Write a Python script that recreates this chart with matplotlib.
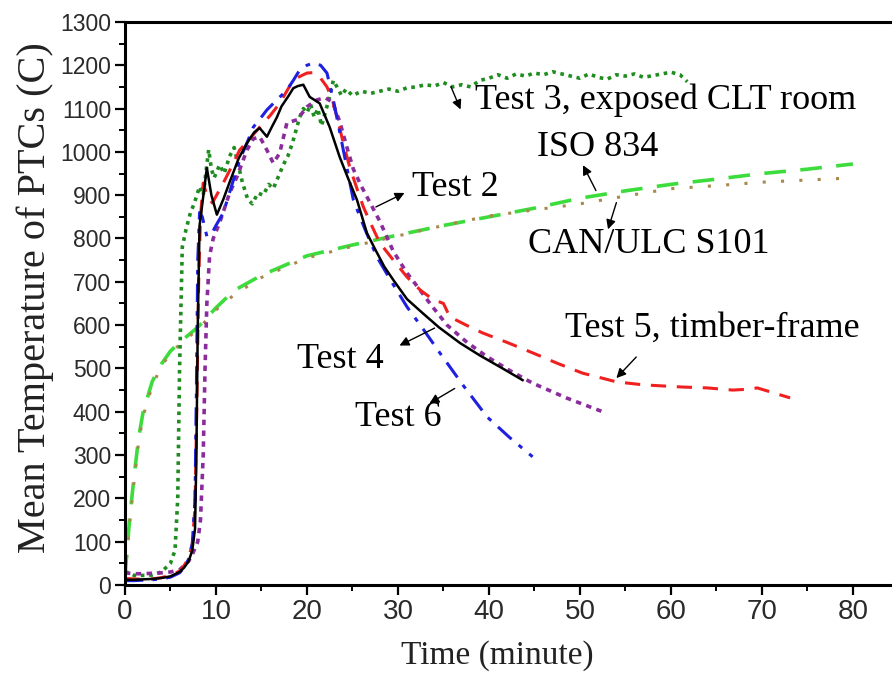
import matplotlib
matplotlib.use('Agg')
import matplotlib.pyplot as plt
from matplotlib.ticker import MultipleLocator

# ---- data (minutes, deg C) ----
t2_time = [0, 1, 2, 3, 4, 5, 6, 6.5, 7, 7.4, 7.7, 7.85, 8.0, 8.2, 8.5, 9.0, 9.5, 10.1, 10.8,
           11.5, 12.5, 13.4, 14.2, 14.8, 15.6, 16.2, 16.7, 17.2, 18.0, 18.5, 19.0, 19.6, 20.3,
           21.4, 22.5, 23.6, 24.5, 25.5, 26.6, 27.5, 28.5, 29.5, 31, 32.7, 34.5, 36.8, 39, 41.5, 43.7]
t2_temp = [12, 12, 13, 14, 16, 20, 30, 40, 55, 80, 130, 300, 600, 830, 880, 963, 900, 855, 890,
           930, 985, 1020, 1045, 1055, 1035, 1060, 1080, 1105, 1130, 1147, 1152, 1155, 1127,
           1112, 1057, 988, 940, 889, 812, 775, 735, 704, 660, 628, 595, 559, 530, 500, 473]

t3_time = [0, 0.5, 1, 2, 3, 4, 5, 5.5, 5.8, 6.0, 6.3, 6.7, 7.2, 7.6, 8.2, 8.6, 9.2, 9.5, 9.8,
           10.4, 10.9, 11.5, 12.0, 12.4, 12.9, 13.5, 14.0, 14.6, 15.2, 15.8, 16.3, 16.9, 17.4,
           17.9, 18.4, 18.8, 19.2, 19.6, 20.0, 20.4, 20.8, 21.2, 21.6, 22.0, 22.4, 22.9, 23.3,
           23.8, 24.3, 25, 26, 27, 28, 29, 30, 31, 32, 33, 34, 35, 36, 37, 38, 39, 40, 41, 42,
           43, 44, 45, 46, 47, 48, 49, 50, 51, 52, 53, 54, 55, 56, 57, 58, 59, 60, 61, 61.8]
t3_temp = [30, 28, 22, 22, 23, 30, 50, 80, 200, 500, 780, 820, 860, 880, 920, 900, 1005, 960, 940,
           970, 950, 990, 1010, 975, 930, 890, 880, 905, 900, 925, 915, 945, 970,
           990, 1020, 1050, 1080, 1100, 1090, 1110, 1080, 1100, 1060, 1090, 1120, 1165, 1150,
           1130, 1145, 1130, 1140, 1135, 1140, 1145, 1140, 1148, 1150, 1155, 1152, 1160, 1150,
           1155, 1150, 1165, 1170, 1178, 1170, 1180, 1175, 1182, 1178, 1185, 1180, 1175, 1170,
           1180, 1172, 1168, 1178, 1175, 1180, 1172, 1176, 1180, 1184, 1178, 1162]

t4_time = [0, 1, 2, 3, 4, 5, 6, 7, 7.5, 8.0, 8.3, 8.6, 8.8, 9.0, 9.3, 9.7, 10.4, 11.5, 12.3,
           13.4, 14.1, 14.8, 15.2, 15.6, 16.3, 17.0, 17.8, 18.9, 20.0, 21.1, 22.0, 22.8, 23.6,
           24.4, 25.1, 26.0, 27.0, 28.0, 29.5, 31.0, 32.1, 33.7, 35.4, 37.6, 39.8, 42.3, 44.8,
           48.5, 52.5]
t4_temp = [28, 26, 26, 27, 28, 30, 35, 55, 75, 100, 150, 300, 500, 650, 760, 800, 836, 905, 942,
           1004, 1030, 1035, 1020, 1004, 974, 997, 1067, 1074, 1104, 1120, 1125, 1115, 1070,
           1010, 960, 920, 880, 840, 770, 720, 690, 645, 600, 560, 527, 495, 466,
           432, 400]

t5_time = [0, 1, 2, 3, 4, 5, 6, 6.5, 7, 7.4, 7.7, 7.9, 8.1, 8.3, 8.6, 9.0, 9.6, 10.2, 10.8,
           11.7, 12.6, 13.7, 14.8, 16, 17, 18.5, 19.3, 20, 20.7, 21.4, 22.2, 22.8, 23.3, 24,
           24.7, 25.5, 26.2, 27, 28, 29.5, 31, 32.5, 33.8, 35.0, 35.7, 37.5, 39.3, 42, 44.8,
           47.5, 50.3, 52, 54, 57, 61.3, 64, 66.8, 68.5, 69.5, 70.9, 73.1]
t5_temp = [15, 14, 13, 14, 17, 22, 32, 45, 62, 95, 180, 420, 700, 850, 928, 900, 882, 905, 928,
           965, 1004, 1030, 1057, 1085, 1112, 1166, 1175, 1182, 1183, 1173, 1150, 1120, 1081, 1020,
           965, 915, 873, 835, 790, 750, 711, 680, 660, 650, 619, 600, 582, 560, 536,
           512, 489, 480, 469, 462, 457, 455, 450, 452, 455, 446, 432]

t6_time = [0, 1, 2, 3, 4, 5, 6, 6.5, 7, 7.4, 7.7, 7.85, 8.0, 8.2, 8.5, 9.0, 9.5, 10.0, 10.8,
           11.7, 12.6, 13.4, 14.1, 14.8, 15.6, 16.7, 17.8, 18.5, 19.2, 20.0, 20.7, 21.5, 22.2,
           22.9, 24, 25.1, 26.4, 27.7, 29.3, 31, 32.8, 34.6, 37.2, 39.8, 42.3, 44.8]
t6_temp = [10, 10, 11, 12, 14, 18, 28, 40, 60, 95, 200, 450, 750, 860, 850, 805, 810, 830, 859,
           920, 981, 1020, 1057, 1075, 1097, 1120, 1143, 1165, 1189, 1200, 1205, 1200, 1182,
           1120, 1004, 889, 820, 757, 700, 642, 590, 536, 460, 388, 340, 296]

iso_time = [0, 0.5, 1, 1.5, 2, 3, 4, 5, 6, 8, 10, 12, 15, 20, 25, 30, 35, 40, 45, 50, 55, 60,
            65, 70, 75, 80]
iso_temp = [20, 150, 250, 340, 400, 470, 510, 540, 560, 595, 640, 680, 715, 760, 785, 808, 830,
            850, 870, 893, 910, 925, 937, 950, 960, 972]

can_time = [0, 0.5, 1, 1.5, 2, 3, 4, 5, 6, 8, 10, 12, 15, 20, 25, 30, 35, 40, 45, 50, 55, 60,
            65, 70, 75, 80]
can_temp = [20, 140, 240, 330, 390, 460, 505, 535, 555, 590, 635, 670, 710, 755, 782, 806, 830,
            852, 866, 880, 898, 915, 922, 930, 935, 940]

plt.rcParams['font.family'] = ['Liberation Sans', 'DejaVu Sans']
serif = ['Liberation Serif', 'DejaVu Serif']

fig = plt.figure(figsize=(8.92, 6.73), dpi=100)
ax = fig.add_axes([0.1401, 0.1308, 0.8599, 0.8366])

ax.plot(iso_time, iso_temp, color='#3ddc3d', lw=2.6, ls=(0, (6, 4)))
ax.plot(can_time, can_temp, color='#a8884c', lw=2.2, ls=(0, (1, 5)))
ax.plot(t3_time, t3_temp, color='#1e8c1e', lw=2.6, ls=(0, (1, 1.3)))
ax.plot(t4_time, t4_temp, color='#8a2c9c', lw=2.6, ls=(0, (1.5, 1.5)))
ax.plot(t5_time, t5_temp, color='#f02020', lw=2.2, ls=(0, (5, 3.5)))
ax.plot(t6_time, t6_temp, color='#2020e0', lw=2.2, ls=(0, (6, 3, 1.5, 3)))
ax.plot(t2_time, t2_temp, color='black', lw=1.8)

ax.set_xlim(0, 84.3)
ax.set_ylim(0, 1300)
ax.xaxis.set_major_locator(MultipleLocator(10))
ax.xaxis.set_minor_locator(MultipleLocator(5))
ax.yaxis.set_major_locator(MultipleLocator(100))
ax.yaxis.set_minor_locator(MultipleLocator(50))
ax.tick_params(which='major', direction='out', length=7, width=1.6,
               labelcolor='#2a2a2a', pad=3)
ax.tick_params(which='minor', direction='out', length=4, width=1.4)
ax.tick_params(axis='x', labelsize=20)
ax.tick_params(axis='y', labelsize=16.5)

ax.spines['right'].set_visible(False)
for s in ['left', 'bottom', 'top']:
    ax.spines[s].set_linewidth(2.2)

ax.set_xlabel('Time (minute)', family=serif, fontsize=24, color='#222222')
ax.set_ylabel('Mean Temperature of PTCs (C)', family=serif, fontsize=29, color='#222222')
ax.xaxis.set_label_coords(0.485, -0.098)
ax.yaxis.set_label_coords(-0.092, 0.51)

arrow = dict(arrowstyle='-|>', color='black', lw=1.0, mutation_scale=14)
fs = 26

ax.annotate('', xy=(37.0, 1092), xytext=(35.7, 1157), arrowprops=arrow)
ax.text(38.5, 1120, 'Test 3, exposed CLT room', family=serif, fontsize=fs, va='center')

ax.annotate('', xy=(50.2, 975), xytext=(51.9, 905), arrowprops=arrow)
ax.text(45.3, 1011, 'ISO 834', family=serif, fontsize=fs, va='center')

ax.annotate('', xy=(53.0, 815), xytext=(54.1, 889), arrowprops=arrow)
ax.text(44.3, 787, 'CAN/ULC S101', family=serif, fontsize=fs, va='center')

ax.annotate('', xy=(31.0, 908), xytext=(27.3, 870), arrowprops=arrow)
ax.text(31.6, 917, 'Test 2', family=serif, fontsize=fs, va='center')

ax.annotate('', xy=(29.9, 550), xytext=(34.3, 596), arrowprops=arrow)
ax.text(18.9, 520, 'Test 4', family=serif, fontsize=fs, va='center')

ax.annotate('', xy=(33.2, 416), xytext=(36.5, 457), arrowprops=arrow)
ax.text(25.3, 386, 'Test 6', family=serif, fontsize=fs, va='center')

ax.annotate('', xy=(53.8, 473), xytext=(56.4, 531), arrowprops=arrow)
ax.text(48.4, 593, 'Test 5, timber-frame', family=serif, fontsize=fs, va='center')

fig.savefig('out.png', dpi=100)
